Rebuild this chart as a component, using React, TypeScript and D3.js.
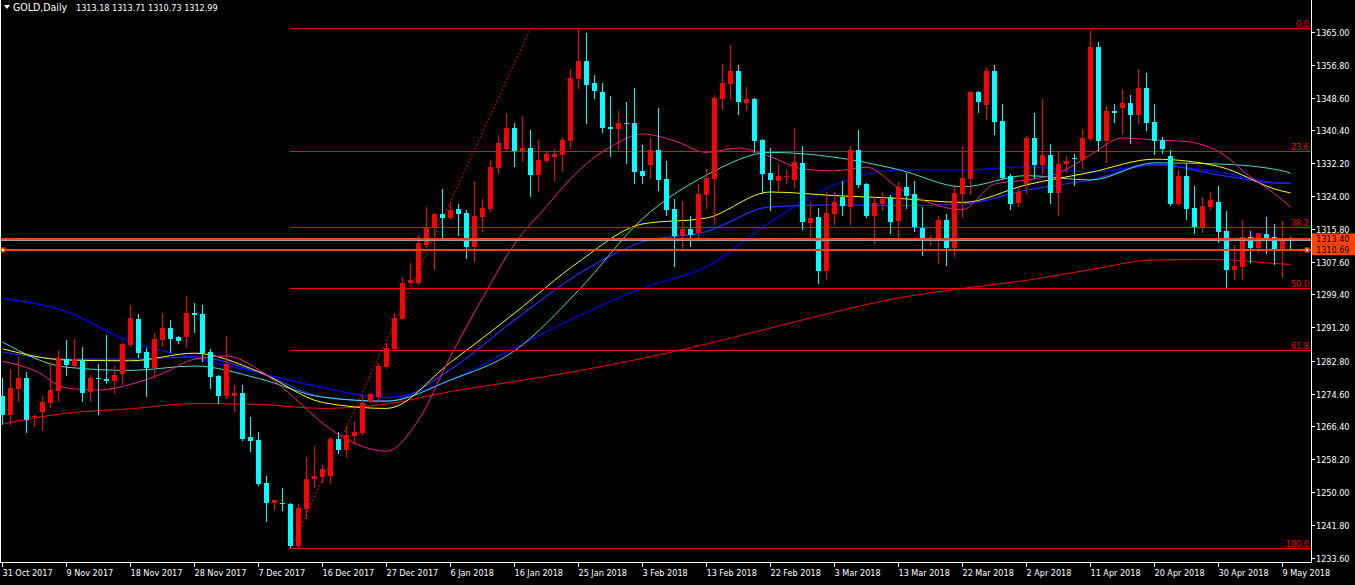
import React, { useEffect } from "react";
import * as d3 from "d3";

// ---------- DATA ----------
const opens = [1274.0,1269.25,1275.75,1278.6,1268.8,1270.1,1272.3,1275.3,1283.25,1281.5,1283.0,1275.1,1278.6,1278.25,1277.8,1279.5,1286.75,1293.25,1285.1,1281.1,1288.0,1290.9,1288.7,1288.8,1294.8,1294.5,1284.9,1279.0,1274.1,1274.1,1274.8,1263.75,1263.0,1252.25,1247.3,1247.3,1247.1,1236.5,1245.8,1253.2,1253.8,1254.1,1263.25,1260.6,1264.1,1264.8,1272.6,1273.8,1281.3,1285.75,1293.3,1302.2,1302.2,1311.75,1316.2,1319.5,1318.6,1320.75,1319.8,1311.2,1318.8,1320.75,1331.1,1335.7,1341.1,1335.25,1336.1,1329.25,1332.75,1333.75,1334.25,1337.8,1353.25,1357.75,1352.3,1350.1,1341.3,1340.75,1342.3,1342.3,1330.25,1331.75,1335.5,1328.25,1320.75,1314.0,1315.7,1314.7,1324.25,1328.25,1348.25,1352.0,1355.25,1347.3,1348.25,1338.0,1329.7,1327.75,1328.8,1328.0,1332.2,1317.3,1318.8,1305.3,1319.5,1323.7,1321.3,1335.5,1327.0,1319.0,1322.0,1323.8,1317.75,1326.2,1324.5,1316.1,1312.8,1313.4,1318.0,1310.9,1324.5,1328.25,1350.1,1346.75,1355.25,1342.75,1329.0,1322.3,1326.9,1338.6,1331.75,1334.25,1324.8,1332.0,1333.6,1333.0,1338.25,1361.3,1337.75,1345.25,1346.1,1347.2,1344.25,1350.9,1342.4,1338.0,1334.0,1322.0,1329.0,1320.9,1316.2,1321.2,1322.6,1315.25,1305.5,1306.3,1313.7,1310.9,1314.5,1313.7,1310.5,1313.18];
const highs = [1278.4,1280.7,1283.8,1280.1,1269.25,1274.0,1282.4,1285.5,1288.0,1288.25,1286.3,1279.25,1282.0,1289.25,1281.5,1287.3,1296.75,1294.5,1285.9,1289.8,1294.7,1293.0,1289.1,1299.1,1297.3,1296.75,1285.75,1279.25,1289.0,1276.75,1276.75,1268.7,1264.9,1254.0,1248.0,1250.9,1247.3,1247.0,1258.8,1261.5,1256.75,1263.8,1264.9,1266.5,1267.75,1274.25,1274.7,1282.2,1287.2,1294.8,1303.7,1307.3,1314.25,1321.2,1319.7,1325.75,1322.2,1322.0,1320.5,1327.75,1323.25,1333.0,1339.25,1344.8,1342.3,1344.0,1340.5,1338.0,1335.1,1335.7,1338.7,1355.7,1365.9,1364.7,1354.25,1352.3,1349.0,1345.3,1347.6,1350.9,1336.75,1338.6,1346.1,1332.75,1323.25,1322.75,1319.0,1326.9,1330.75,1349.25,1356.9,1361.75,1356.75,1351.2,1348.4,1338.25,1336.1,1332.0,1330.5,1341.1,1336.5,1322.6,1321.1,1324.9,1324.9,1327.75,1336.5,1340.5,1327.2,1324.0,1324.9,1324.25,1327.4,1329.8,1327.75,1321.3,1314.25,1319.0,1319.4,1326.75,1336.5,1350.3,1350.25,1356.1,1356.75,1347.0,1329.4,1326.3,1339.0,1344.8,1348.25,1337.0,1335.1,1334.0,1334.5,1340.75,1365.5,1362.4,1346.5,1347.0,1350.5,1349.25,1355.7,1354.8,1347.0,1338.7,1335.5,1330.5,1332.2,1326.5,1323.8,1324.9,1326.5,1320.25,1311.75,1318.0,1315.25,1314.8,1318.7,1317.0,1317.75,1313.71];
const lows = [1267.0,1267.0,1272.8,1264.9,1266.6,1265.5,1271.3,1272.8,1279.25,1281.5,1272.8,1272.8,1269.4,1277.2,1274.7,1277.0,1286.5,1283.8,1274.1,1278.7,1286.6,1285.1,1287.2,1286.3,1290.1,1282.75,1275.9,1272.2,1273.4,1270.3,1263.0,1260.3,1251.8,1242.8,1245.7,1245.5,1236.3,1235.9,1243.4,1251.2,1252.6,1252.2,1259.7,1258.7,1262.2,1264.4,1272.5,1272.8,1280.9,1285.7,1293.25,1301.9,1302.0,1311.3,1305.7,1313.4,1318.2,1314.25,1308.5,1307.8,1315.3,1320.3,1329.8,1335.5,1331.6,1332.75,1324.1,1325.3,1332.6,1328.0,1330.25,1336.1,1351.1,1342.3,1348.6,1340.1,1334.0,1335.7,1332.3,1327.2,1327.2,1328.6,1325.5,1319.25,1306.5,1310.9,1311.5,1313.8,1321.1,1317.0,1345.7,1348.25,1344.5,1345.5,1335.1,1324.7,1320.5,1325.5,1327.2,1326.3,1315.7,1313.4,1302.3,1303.25,1317.0,1319.25,1317.0,1326.3,1318.8,1312.3,1320.5,1314.8,1313.4,1321.1,1315.3,1309.25,1311.75,1307.3,1306.75,1309.1,1318.8,1324.5,1345.1,1343.25,1339.5,1328.2,1320.75,1321.6,1324.8,1328.6,1329.7,1322.3,1319.25,1330.1,1326.75,1331.1,1338.0,1335.5,1332.6,1342.6,1339.8,1337.3,1342.2,1340.5,1334.5,1334.8,1321.75,1321.75,1318.25,1314.8,1315.1,1320.7,1312.6,1301.3,1303.25,1303.25,1307.6,1310.1,1309.8,1306.9,1303.8,1310.73];
const closes = [1269.25,1276.1,1278.6,1268.0,1269.0,1272.5,1275.5,1283.4,1281.75,1283.25,1274.7,1278.6,1278.2,1277.8,1279.25,1287.0,1293.6,1284.8,1281.1,1288.25,1291.1,1288.25,1287.8,1294.8,1294.3,1284.7,1278.8,1274.1,1281.9,1274.8,1263.25,1262.8,1252.0,1247.3,1248.0,1246.9,1236.5,1246.1,1253.25,1254.1,1255.75,1263.25,1260.6,1264.25,1264.9,1272.3,1274.5,1281.6,1286.0,1293.6,1302.25,1303.0,1312.3,1316.2,1319.5,1318.6,1320.5,1319.5,1311.2,1319.0,1321.1,1331.3,1337.2,1341.1,1335.25,1336.1,1329.25,1333.0,1334.5,1334.5,1338.0,1353.4,1357.75,1351.75,1350.3,1341.1,1340.75,1342.3,1342.0,1330.1,1329.1,1335.5,1328.0,1320.5,1314.0,1315.7,1314.25,1324.5,1328.4,1348.4,1352.3,1355.25,1347.6,1348.25,1337.8,1329.5,1328.0,1329.0,1329.1,1332.4,1317.6,1318.6,1305.3,1319.8,1322.4,1321.5,1335.5,1326.75,1319.0,1322.2,1323.25,1317.6,1326.2,1324.0,1316.3,1313.4,1313.4,1318.0,1310.9,1324.8,1328.6,1350.1,1347.6,1355.25,1342.6,1328.6,1322.0,1324.9,1338.6,1331.75,1334.25,1324.8,1332.0,1332.75,1333.2,1338.6,1361.3,1337.75,1345.25,1344.8,1347.2,1344.25,1350.9,1342.3,1337.8,1335.75,1322.0,1329.0,1320.75,1316.2,1321.5,1323.0,1315.1,1305.5,1306.5,1313.7,1310.9,1314.8,1313.4,1310.5,1313.4,1312.99];

const maIdx8 = [0,8,16,24,32,40,48,56,64,72,80,88,96,104,112,120,128,136,144,152,160,161];
const maIdx4 = [0,4,8,12,16,20,24,28,32,36,40,44,48,52,56,60,64,68,72,76,80,84,88,92,96,100,104,108,112,116,120,124,128,132,136,140,144,148,152,156,160,161];
const redMA = [1267,1269.7,1270.8,1272.1,1271.9,1270.9,1272,1275.1,1277.6,1280.3,1283.4,1287,1291,1295,1298.5,1300.9,1302.9,1305.6,1308,1308.1,1307,1306.9];
const pinkMA = [1282.7,1280.4,1276,1275.5,1276.9,1279.6,1283.2,1284,1280.6,1274.4,1267.2,1262.2,1260.2,1268,1283.9,1298.5,1312,1321.4,1330.3,1336.3,1339.5,1337.8,1334.9,1336,1333.8,1330.8,1330.3,1331.2,1326,1322.2,1320.6,1327,1328,1329.7,1334.3,1338.5,1338,1337.6,1335.1,1328.8,1323,1321.2];
const cyanMA = [1287.5,1281.2,1280.4,1281.5,1278.4,1273.7,1272.7,1278,1285.3,1300.4,1318.3,1329.2,1334.9,1333.7,1330.6,1326.3,1329.1,1328,1332.3,1332,1330.3,1329.7];
const yellowMA = [1285.8,1283,1282.8,1284.7,1280.1,1272.4,1270.9,1282.4,1294.7,1307.5,1317,1318.5,1325,1324.1,1323.4,1322.4,1326.8,1329.9,1333.2,1331.4,1325.2,1324.8];
const blueMA = [1285,1283.2,1283.2,1283.8,1279.9,1273.8,1272.7,1280.6,1293,1304.5,1312.5,1315.1,1321.3,1321.8,1321.6,1322,1325.5,1328,1331.9,1329.3,1327.2,1327.2];
const blueLongMA = [1298.4,1295.1,1287.5,1283.5,1279.8,1276.1,1273.6,1278,1286,1294,1301,1306.3,1317.5,1326.8,1330.5,1330.5,1331.3,1330,1331.7,1330,1327.2,1327.2];

const priceTicks = ["1365.00","1356.80","1348.60","1340.40","1332.20","1324.00","1315.80","1307.60","1299.40","1291.20","1282.80","1274.60","1266.40","1258.20","1250.00","1241.80","1233.60"];
const dateLabels = ["31 Oct 2017","9 Nov 2017","18 Nov 2017","28 Nov 2017","7 Dec 2017","16 Dec 2017","27 Dec 2017","6 Jan 2018","16 Jan 2018","25 Jan 2018","3 Feb 2018","13 Feb 2018","22 Feb 2018","3 Mar 2018","13 Mar 2018","22 Mar 2018","2 Apr 2018","11 Apr 2018","20 Apr 2018","30 Apr 2018","9 May 2018"];
const dateLabelStep = 8;

const fibLow = 1235.9;
const fibHigh = 1365.9;
const fibLowBar = 36;
const fibHighBar = 66;
const fibLevels = [0, 23.6, 38.2, 50, 61.8, 100];

const hLines = [1313.40, 1310.69];
const bidPrice = 1312.99;
const header = "GOLD,Daily";
const headerValues = "1313.18 1313.71 1310.73 1312.99";

// ---------- LAYOUT ----------
const W = 1355, H = 585;
const plotRight = 1311;
const plotBottom = 562;
const FONT = "'DejaVu Sans Condensed', 'DejaVu Sans', sans-serif";

export default function App() {
  useEffect(() => {
    document.body.style.margin = "0";
    document.body.style.background = "#000";
  }, []);

  const x = d3.scaleLinear().domain([0, 161]).range([2.5, 1290.5]);
  const y = d3.scaleLinear().domain([1233.6, 1365]).range([557.6, 32]);

  const bull = "#FF0000";
  const bear = "#00FFFF";

  const mkLine = (idx: number[], vals: number[]) =>
    d3.line<number>()
      .x((_, i) => x(idx[i]))
      .y((v) => y(v))
      .curve(d3.curveMonotoneX)(vals) || "";

  const candles = opens.map((o, i) => {
    const c = closes[i], h = highs[i], l = lows[i];
    const up = c >= o;
    const col = up ? bull : bear;
    const cx = Math.round(x(i) - 0.5) + 0.5;
    const top = Math.round(y(Math.max(o, c)));
    const bot = Math.round(y(Math.min(o, c)));
    return (
      <g key={i}>
        <line x1={cx} x2={cx} y1={Math.round(y(h))} y2={Math.round(y(l)) + 1} stroke={col} strokeWidth={1} />
        <rect x={cx - 2.5} y={top} width={5} height={Math.max(1, bot - top)} fill={col} />
      </g>
    );
  });

  const fibX0 = x(fibLowBar) - 0.5;
  const fibPrice = (lv: number) => fibHigh - (fibHigh - fibLow) * lv / 100;

  return (
    <svg width={W} height={H} style={{ position: "fixed", left: 0, top: 0, background: "#000", display: "block" }} fontFamily={FONT} fontStretch="condensed">
      <rect x={0} y={0} width={W} height={H} fill="#000" />

      {/* moving averages */}
      <path d={mkLine(maIdx8, redMA)} fill="none" stroke="#FF0000" strokeWidth={1} />
      <path d={mkLine(maIdx8, blueLongMA)} fill="none" stroke="#0000FF" strokeWidth={1.2} />
      <path d={mkLine(maIdx8, blueMA)} fill="none" stroke="#1E2DFF" strokeWidth={1.2} />
      <path d={mkLine(maIdx8, cyanMA)} fill="none" stroke="#40E0D0" strokeWidth={1} />
      <path d={mkLine(maIdx8, yellowMA)} fill="none" stroke="#FFFF00" strokeWidth={1} />
      <path d={mkLine(maIdx4, pinkMA)} fill="none" stroke="#FF1493" strokeWidth={1} />

      {/* fibonacci */}
      {fibLevels.map((lv) => {
        const yy = Math.round(y(fibPrice(lv))) + 0.5;
        return (
          <g key={lv}>
            <line x1={fibX0} x2={plotRight} y1={yy} y2={yy} stroke="#FF0000" strokeWidth={1} />
            <text x={1309} y={yy - 2} fill="#FF0000" fontSize={9} textAnchor="end">{lv.toFixed(1)}</text>
          </g>
        );
      })}
      <line x1={x(fibLowBar)} y1={y(fibLow)} x2={x(fibHighBar)} y2={y(fibHigh)} stroke="#FF0000" strokeWidth={1} strokeDasharray="2,2" />

      {/* candles */}
      {candles}

      {/* horizontal lines */}
      <line x1={0} x2={plotRight} y1={Math.round(y(bidPrice)) + 0.5} y2={Math.round(y(bidPrice)) + 0.5} stroke="#A0A0A0" strokeWidth={1} />
      {hLines.map((p) => {
        const yy = Math.round(y(p)) + 1;
        return <line key={p} x1={0} x2={plotRight} y1={yy} y2={yy} stroke="#FF4500" strokeWidth={2} />;
      })}
      {[3, 1307].map((cx) => (
        <g key={cx}>
          <rect x={cx - 2.5} y={Math.round(y(hLines[1])) - 1.5} width={5} height={5} fill="#FF4500" />
          <rect x={cx - 1} y={Math.round(y(hLines[1]))} width={2} height={2} fill="#FFFFFF" />
        </g>
      ))}

      {/* frame */}
      <line x1={0.5} x2={0.5} y1={0} y2={plotBottom} stroke="#FFFFFF" />
      <line x1={plotRight + 0.5} x2={plotRight + 0.5} y1={0} y2={plotBottom + 0.5} stroke="#FFFFFF" />
      <line x1={0} x2={plotRight + 1} y1={plotBottom + 0.5} y2={plotBottom + 0.5} stroke="#FFFFFF" />

      {/* price axis */}
      {priceTicks.map((t) => {
        const yy = Math.round(y(+t)) + 0.5;
        return (
          <g key={t}>
            <line x1={plotRight + 1} x2={plotRight + 4} y1={yy} y2={yy} stroke="#FFFFFF" />
            <text x={1316} y={yy + 3.5} fill="#FFFFFF" fontSize={9}>{t}</text>
          </g>
        );
      })}
      {hLines.map((p) => {
        const yy = y(p);
        return (
          <g key={"lbl" + p}>
            <rect x={plotRight + 1} y={yy - 5} width={W - plotRight - 1} height={11} fill="#FF4500" />
            <text x={1316} y={yy + 4} fill="#000000" fontSize={9}>{p.toFixed(2)}</text>
          </g>
        );
      })}

      {/* time axis */}
      {dateLabels.map((d, k) => {
        const xx = Math.round(x(k * dateLabelStep) - 0.5) + 0.5;
        return (
          <g key={d}>
            <line x1={xx} x2={xx} y1={plotBottom} y2={plotBottom + 5} stroke="#FFFFFF" />
            <text x={xx} y={576} fill="#FFFFFF" fontSize={9}>{d}</text>
          </g>
        );
      })}

      {/* header */}
      <path d="M4,5 L10,5 L7,9 Z" fill="#FFFFFF" />
      <text x={13} y={11} fill="#FFFFFF" fontSize={10.5}>{header}</text>
      <text x={76} y={11} fill="#FFFFFF" fontSize={9}>{headerValues}</text>
    </svg>
  );
}
